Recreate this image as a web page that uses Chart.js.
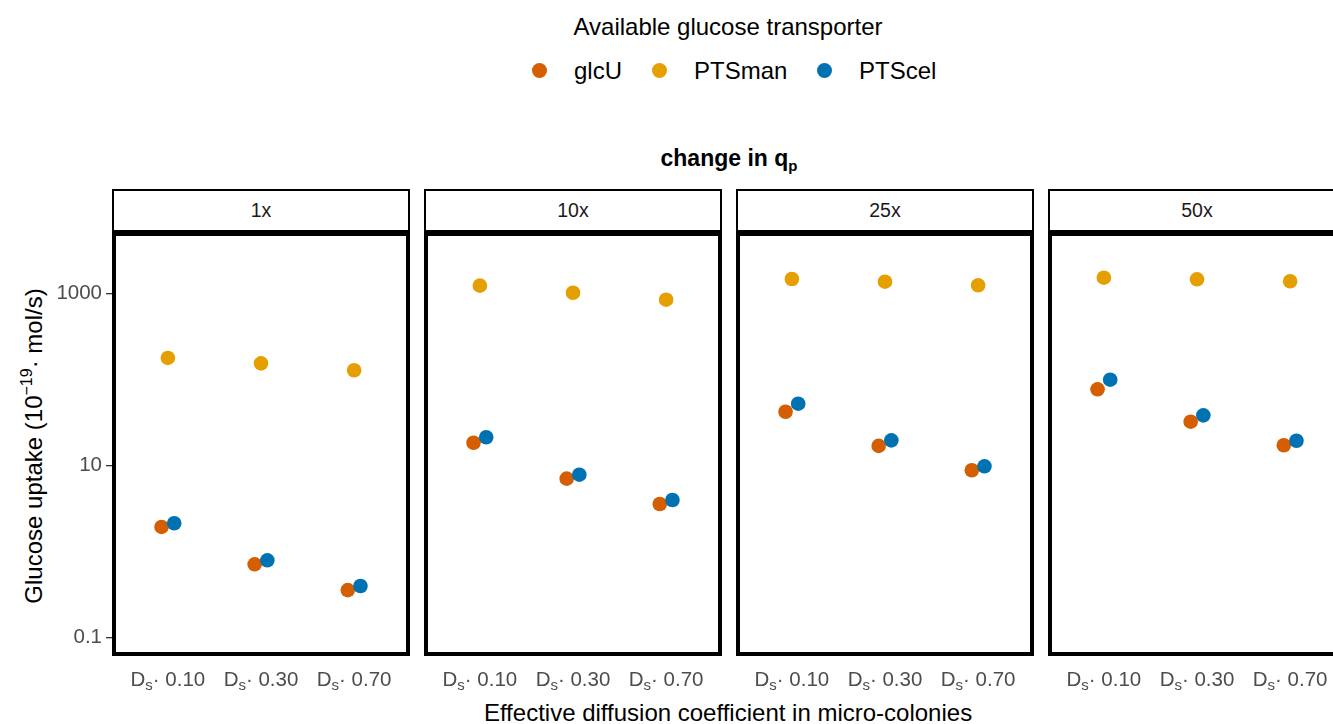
<!DOCTYPE html>
<html>
<head>
<meta charset="utf-8">
<script src="https://cdn.jsdelivr.net/npm/chart.js@4.4.1/dist/chart.umd.min.js"></script>
<style>
  html, body { margin: 0; padding: 0; background: #fff; overflow: hidden; }
  body { width: 1333px; height: 724px; font-family: "Liberation Sans", Arial, sans-serif; }
  #fig { position: relative; width: 1350px; height: 724px; }
  .abs { position: absolute; white-space: nowrap; }
  .strip { position: absolute; box-sizing: border-box; border: 2px solid #000; background: #fff;
           font-size: 19.5px; color: #1a1a1a; text-align: center; }
  .dot { position: absolute; width: 15px; height: 15px; border-radius: 50%; }
  canvas { position: absolute; }
</style>
</head>
<body>
<div id="fig"></div>
<script>
// diffusion coefficient categories (x) and facet labels
const categories = ['0.10', '0.30', '0.70'];
const qpChange = ['1x', '10x', '25x', '50x'];

// glucose uptake (1e-19 mol/s), one row per facet, one value per category
const glcU   = [[1.93, 0.71, 0.356], [18.4, 7.03, 3.57], [42.2, 16.9, 8.8], [76.9, 32.3, 17.2]];
const ptsMan = [[178, 154, 128], [1233, 1021, 847], [1475, 1371, 1245], [1527, 1462, 1387]];
const ptsCel = [[2.13, 0.79, 0.397], [21.3, 7.82, 3.97], [52.3, 19.6, 9.79], [99.5, 38.3, 19.4]];

const yTicks = [0.1, 10, 1000];

const series = [
  { name: 'glcU', values: glcU, color: '#D55E00', dodge: -0.068, order: 3 },
  { name: 'PTSman', values: ptsMan, color: '#E69F00', dodge: 0, order: 2 },
  { name: 'PTScel', values: ptsCel, color: '#0072B2', dodge: 0.068, order: 1 }
];

const FONT = '"Liberation Sans", Arial, sans-serif';
Chart.defaults.font.family = FONT;

const fig = document.getElementById('fig');
function addEl(tag, cls, style, html) {
  const el = document.createElement(tag);
  if (cls) el.className = cls;
  Object.assign(el.style, style);
  if (html !== undefined) el.innerHTML = html;
  fig.appendChild(el);
  return el;
}

// legend
addEl('div', 'abs', { left: '728px', top: '27px', transform: 'translate(-50%,-50%)', fontSize: '24px', color: '#000' },
  'Available glucose transporter');
const legendLeft = [532, 652, 817];
series.forEach((s, i) => {
  addEl('div', 'dot', { left: legendLeft[i] + 'px', top: '63px', background: s.color });
  addEl('div', 'abs', { left: (legendLeft[i] + 42) + 'px', top: '71px', transform: 'translateY(-50%)', fontSize: '24px', color: '#000' }, s.name);
});

// facet title
addEl('div', 'abs', { left: '729px', top: '158px', transform: 'translate(-50%,-50%)', fontSize: '23px', fontWeight: 'bold', color: '#000' },
  'change in q<span style="font-size:15px; position:relative; top:5px">p</span>');

// axis titles
addEl('div', 'abs', { left: '34px', top: '446px', transform: 'translate(-50%,-50%) rotate(-90deg)', fontSize: '24px', color: '#000' },
  'Glucose uptake (10<span style="font-size:16px; position:relative; top:-10px">\u221219</span>\u00b7 mol/s)');
addEl('div', 'abs', { left: '728px', top: '713px', transform: 'translate(-50%,-50%)', fontSize: '24px', color: '#000' },
  'Effective diffusion coefficient in micro-colonies');

const PANEL_TOP = 232, PANEL_W = 298, STRIP_TOP = 189, AXIS_H = 68;
const panelLeft = [112, 424, 736, 1048];
const Y_MIN = Math.pow(10, -1.215), Y_MAX = Math.pow(10, 3.715);

function noPadding(s) {
  s.paddingTop = 0; s.paddingBottom = 0; s.paddingLeft = 0; s.paddingRight = 0;
}

const panelBorder = {
  id: 'panelBorder',
  afterDraw(chart) {
    const { ctx, chartArea: a } = chart;
    ctx.save();
    ctx.strokeStyle = '#000';
    ctx.lineWidth = 4;
    ctx.strokeRect(a.left + 2, a.top + 2, a.right - a.left - 4, a.bottom - a.top - 4);
    ctx.restore();
  }
};

// "D_s · 0.10" style labels under each category
const dsTicks = {
  id: 'dsTicks',
  afterDraw(chart) {
    const { ctx, chartArea: a, scales: { x } } = chart;
    const big = '20.5px ' + FONT, small = '15px ' + FONT;
    ctx.save();
    ctx.fillStyle = '#4D4D4D';
    ctx.textBaseline = 'alphabetic';
    ctx.textAlign = 'left';
    const y = a.bottom + 30;
    categories.forEach((c, i) => {
      const rest = '\u00b7 ' + c;
      ctx.font = big;
      const wD = ctx.measureText('D').width, wR = ctx.measureText(rest).width;
      ctx.font = small;
      const wS = ctx.measureText('s').width;
      let x0 = x.getPixelForValue(i) - (wD + wS + wR) / 2;
      ctx.font = big; ctx.fillText('D', x0, y); x0 += wD;
      ctx.font = small; ctx.fillText('s', x0, y + 4); x0 += wS;
      ctx.font = big; ctx.fillText(rest, x0, y);
    });
    ctx.restore();
  }
};

qpChange.forEach((label, p) => {
  addEl('div', 'strip', { left: panelLeft[p] + 'px', top: STRIP_TOP + 'px', width: PANEL_W + 'px', height: (PANEL_TOP - STRIP_TOP) + 'px', lineHeight: (PANEL_TOP - STRIP_TOP - 4) + 'px' }, label);

  const withAxis = p === 0;
  const canvas = document.createElement('canvas');
  const w = withAxis ? panelLeft[p] + PANEL_W : PANEL_W;
  const h = 724 - PANEL_TOP;
  canvas.width = w; canvas.height = h;
  canvas.style.left = (withAxis ? 0 : panelLeft[p]) + 'px';
  canvas.style.top = PANEL_TOP + 'px';
  canvas.style.width = w + 'px'; canvas.style.height = h + 'px';
  fig.appendChild(canvas);

  new Chart(canvas, {
    type: 'scatter',
    data: {
      datasets: series.map(s => ({
        label: s.name,
        data: categories.map((c, i) => ({ x: i + s.dodge, y: s.values[p][i] })),
        backgroundColor: s.color,
        borderWidth: 0,
        pointRadius: 7.3,
        pointHoverRadius: 7.3,
        order: s.order
      }))
    },
    options: {
      responsive: false,
      animation: false,
      devicePixelRatio: 1,
      layout: { padding: 0, autoPadding: false },
      plugins: { legend: { display: false }, tooltip: { enabled: false } },
      scales: {
        x: {
          type: 'linear', min: -0.6, max: 2.6,
          grid: { display: false }, border: { display: false },
          ticks: { display: false },
          afterFit: s => { s.height = AXIS_H; noPadding(s); }
        },
        y: {
          type: 'logarithmic', min: Y_MIN, max: Y_MAX,
          display: withAxis,
          afterFit: s => { s.width = withAxis ? panelLeft[0] : 0; noPadding(s); },
          afterBuildTicks: s => { s.ticks = yTicks.map(v => ({ value: v })); },
          ticks: {
            autoSkip: false, padding: 4,
            color: '#4D4D4D', font: { size: 20.5 },
            callback: v => String(v)
          },
          grid: { drawOnChartArea: false, tickLength: 6, color: '#333333', lineWidth: 1.3 },
          border: { display: false }
        }
      }
    },
    plugins: [panelBorder, dsTicks]
  });
});
</script>
</body>
</html>
